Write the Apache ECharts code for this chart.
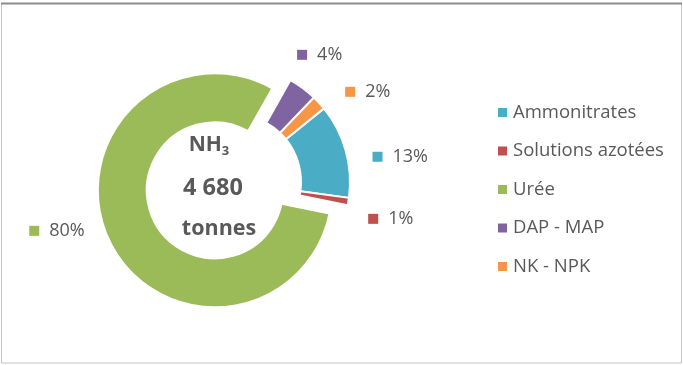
<!DOCTYPE html>
<html>
<head>
<meta charset="utf-8">
<style>
  html, body { margin: 0; padding: 0; background: #ffffff; }
  #chart { width: 683px; height: 365px; }
</style>
<script src="https://cdn.jsdelivr.net/npm/echarts@6/dist/echarts.min.js"></script>
</head>
<body>
<div id="chart"></div>
<script>
// Ammonia use by fertiliser type (share of 4 680 tonnes NH3)
const categories = ['Ammonitrates', 'Solutions azotées', 'Urée', 'DAP - MAP', 'NK - NPK'];
const shares = [13, 1, 80, 4, 2];
const colors = ['#4BACC6', '#C0504D', '#9BBB59', '#8064A2', '#F79646'];
const explodedSlices = ['Urée'];
const centerLines = ['NH3', '4 680', 'tonnes'];

const FONT = '"Open Sans", sans-serif';
const TEXT = '#595959';

// nudges applied to each outside label after the pie lays them out
const labelNudge = [[7, 10], [0, 15], [0, -14], [-25, -22], [4, -5]];

const chart = echarts.init(document.getElementById('chart'), null, { renderer: 'canvas' });

const pieData = categories.map((name, i) => ({
  name: name,
  value: shares[i],
  selected: explodedSlices.includes(name),
  itemStyle: { color: colors[i] },
  label: {
    formatter: '{m|}{v|{c}%}',
    rich: {
      m: { width: 10, height: 10, backgroundColor: colors[i] },
      v: { fontSize: 18, fontFamily: FONT, color: TEXT, padding: [0, 0, 0, 10] }
    }
  }
}));

chart.setOption({
  animation: false,
  backgroundColor: '#ffffff',
  color: colors,
  legend: {
    orient: 'vertical',
    left: 496,
    top: 102.5,
    padding: 0,
    icon: 'rect',
    itemWidth: 11,
    itemHeight: 11,
    itemGap: 18.5,
    data: categories,
    textStyle: { fontFamily: FONT, fontSize: 18.5, color: TEXT, lineHeight: 20 }
  },
  graphic: [
    {
      type: 'rect',
      shape: { x: 1.5, y: 3.5, width: 680, height: 359.5 },
      style: { fill: 'none', stroke: '#c4c4c4', lineWidth: 1 },
      silent: true
    },
    {
      type: 'line',
      shape: { x1: 1, y1: 3.5, x2: 682, y2: 3.5 },
      style: { stroke: '#8c8c8c', lineWidth: 2 },
      silent: true
    },
    {
      type: 'text',
      x: 209, y: 145,
      style: {
        text: '{b|NH}{s|3}',
        align: 'center', verticalAlign: 'middle',
        rich: {
          b: { fontFamily: FONT, fontWeight: 'bold', fontSize: 21, fill: TEXT },
          s: { fontFamily: FONT, fontWeight: 'bold', fontSize: 13, fill: TEXT, padding: [12, 0, 0, 0] }
        }
      },
      silent: true
    },
    {
      type: 'text',
      x: 213, y: 188,
      style: { text: centerLines[1], align: 'center', verticalAlign: 'middle',
               fontFamily: FONT, fontWeight: 'bold', fontSize: 23.5, fill: TEXT },
      silent: true
    },
    {
      type: 'text',
      x: 219, y: 229,
      style: { text: centerLines[2], align: 'center', verticalAlign: 'middle',
               fontFamily: FONT, fontWeight: 'bold', fontSize: 21.5, fill: TEXT },
      silent: true
    }
  ],
  series: [{
    type: 'pie',
    center: [233, 182],
    radius: [68, 117],
    startAngle: 39,
    clockwise: true,
    selectedMode: 'multiple',
    selectedOffset: 20,
    avoidLabelOverlap: true,
    itemStyle: { borderColor: '#ffffff', borderWidth: 2 },
    emphasis: { disabled: true },
    label: { show: true, position: 'outside', fontFamily: FONT },
    labelLine: { show: false, length: 14, length2: 6 },
    labelLayout: function (params) {
      const n = labelNudge[params.dataIndex];
      return { dx: n[0], dy: n[1] };
    },
    data: pieData
  }]
});
</script>
</body>
</html>
